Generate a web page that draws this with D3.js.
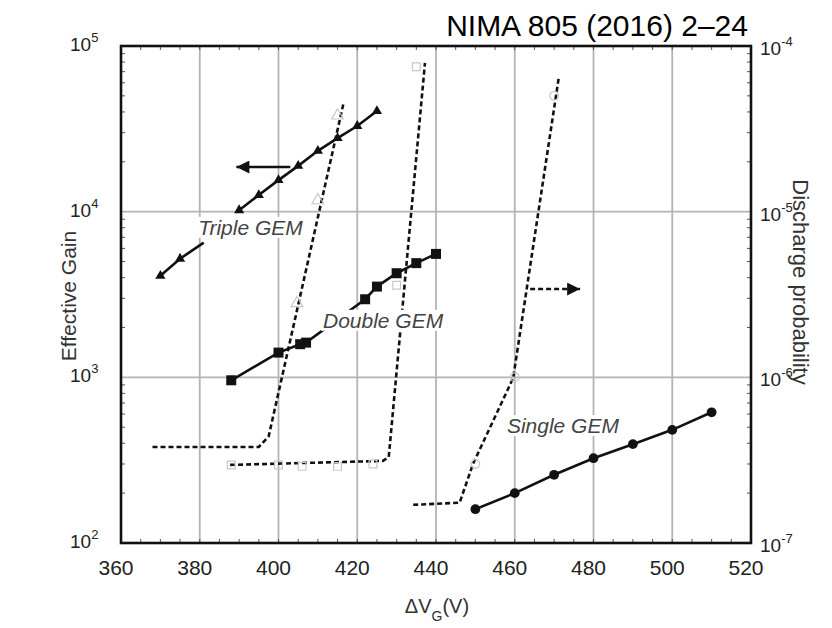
<!DOCTYPE html>
<html>
<head>
<meta charset="utf-8">
<script src="https://cdn.jsdelivr.net/npm/d3@7"></script>
<style>
  body { margin: 0; background: #fff; }
  svg { display: block; font-family: "Liberation Sans", Arial, sans-serif; }
</style>
</head>
<body>
<div id="chart"></div>
<script>
// gain curves (left axis)
var tripleLowV = [370, 375, 381];
var tripleLowGain = [4100, 5200, 6500];
var tripleV = [390, 395, 400, 405, 410, 415, 420, 425];
var tripleGain = [10200, 12600, 15500, 18900, 23300, 27800, 32900, 40500];
var doubleV = [388, 400, 405.5, 407, 422, 425, 430, 435, 440];
var doubleGain = [960, 1410, 1585, 1620, 2960, 3530, 4250, 4890, 5560];
var singleV = [450, 460, 470, 480, 490, 500, 510];
var singleGain = [160, 200, 258, 325, 395, 482, 615];

// discharge probability curves (right axis)
var tripleDischV = [368, 395, 397.5, 416.5];
var tripleDischP = [3.8e-7, 3.8e-7, 4.4e-7, 4.5e-5];
var doubleDischV = [387.7, 426.5, 428, 437.2];
var doubleDischP = [2.96e-7, 3.13e-7, 3.3e-7, 7.9e-5];
var singleDischV = [434.2, 446, 449.4, 459.6, 471.2];
var singleDischP = [1.7e-7, 1.75e-7, 3.0e-7, 9.9e-7, 6.5e-5];

// faint open markers on the discharge curves
var tripleOpenV = [404.7, 410, 415];
var tripleOpenP = [2.8e-6, 1.17e-5, 3.8e-5];
var doubleOpenV = [388, 400, 406, 415, 424, 430, 435];
var doubleOpenP = [2.96e-7, 2.96e-7, 2.9e-7, 2.9e-7, 3.0e-7, 3.6e-6, 7.5e-5];
var singleOpenV = [450, 460, 470];
var singleOpenP = [3.0e-7, 1.0e-6, 5.0e-5];

var xTicks = [360, 380, 400, 420, 440, 460, 480, 500, 520];
var gainTicks = [2, 3, 4, 5];
var probTicks = [-7, -6, -5, -4];

var W = 832, H = 628;
var plotL = 121, plotR = 751, plotT = 46, plotB = 543;

var svg = d3.select('#chart').append('svg')
    .attr('width', W)
    .attr('height', H);

var x = d3.scaleLinear().domain([360, 520]).range([plotL, plotR]);
var yG = d3.scaleLog().domain([1e2, 1e5]).range([plotB, plotT]);
var yP = d3.scaleLog().domain([1e-7, 1e-4]).range([plotB, plotT]);

function zip(a, b) {
    return a.map(function (d, i) { return [d, b[i]]; });
}

// grid
var grid = svg.append('g');
grid.selectAll('.vg').data(xTicks.slice(1, -1)).enter().append('line')
    .attr('x1', function (d) { return x(d); })
    .attr('x2', function (d) { return x(d); })
    .attr('y1', plotT).attr('y2', plotB)
    .attr('stroke', '#b4b4b4').attr('stroke-width', 1.8);
grid.selectAll('.hg').data([1e3, 1e4]).enter().append('line')
    .attr('x1', plotL).attr('x2', plotR)
    .attr('y1', function (d) { return yG(d); })
    .attr('y2', function (d) { return yG(d); })
    .attr('stroke', '#b4b4b4').attr('stroke-width', 1.8);

// minor ticks
var minorX = d3.range(365, 520, 5);
var minorY = [];
[100, 1000, 10000].forEach(function (dec) {
    for (var k = 2; k < 10; k++) { minorY.push(dec * k); }
});
var ticks = svg.append('g').attr('stroke', '#555').attr('stroke-width', 1);
ticks.selectAll('.mxb').data(minorX).enter().append('line')
    .attr('x1', function (d) { return x(d); }).attr('x2', function (d) { return x(d); })
    .attr('y1', plotB).attr('y2', plotB - 4);
ticks.selectAll('.mxt').data(minorX).enter().append('line')
    .attr('x1', function (d) { return x(d); }).attr('x2', function (d) { return x(d); })
    .attr('y1', plotT).attr('y2', plotT + 4);
ticks.selectAll('.myl').data(minorY).enter().append('line')
    .attr('x1', plotL).attr('x2', plotL + 4)
    .attr('y1', function (d) { return yG(d); }).attr('y2', function (d) { return yG(d); });
ticks.selectAll('.myr').data(minorY).enter().append('line')
    .attr('x1', plotR).attr('x2', plotR - 4)
    .attr('y1', function (d) { return yG(d); }).attr('y2', function (d) { return yG(d); });

// frame
svg.append('rect')
    .attr('x', plotL).attr('y', plotT)
    .attr('width', plotR - plotL).attr('height', plotB - plotT)
    .attr('fill', 'none').attr('stroke', '#111').attr('stroke-width', 2.6);

// tick labels
svg.selectAll('.xl').data(xTicks).enter().append('text')
    .attr('x', function (d) { return x(d) - 5; })
    .attr('y', plotB + 32)
    .attr('text-anchor', 'middle')
    .attr('font-size', 21)
    .attr('fill', '#222')
    .text(function (d) { return d; });

var gl = svg.selectAll('.gl').data(gainTicks).enter().append('text')
    .attr('x', 70)
    .attr('y', function (d) { return yG(Math.pow(10, d)) + 5; })
    .attr('font-size', 19)
    .attr('fill', '#222');
gl.append('tspan').text('10');
gl.append('tspan').attr('dy', -9).attr('font-size', 13).text(function (d) { return d; });

var pl = svg.selectAll('.pl').data(probTicks).enter().append('text')
    .attr('x', 760)
    .attr('y', function (d) { return yP(Math.pow(10, d)) + 9; })
    .attr('font-size', 19)
    .attr('fill', '#222');
pl.append('tspan').text('10');
pl.append('tspan').attr('dy', -9).attr('font-size', 13).text(function (d) { return d; });

// axis titles
svg.append('text')
    .attr('transform', 'translate(76,296) rotate(-90)')
    .attr('text-anchor', 'middle')
    .attr('font-size', 21)
    .attr('fill', '#333')
    .text('Effective Gain');
svg.append('text')
    .attr('transform', 'translate(793,282) rotate(90)')
    .attr('text-anchor', 'middle')
    .attr('font-size', 22)
    .attr('fill', '#333')
    .text('Discharge probability');
var xt = svg.append('text')
    .attr('x', 437).attr('y', 613)
    .attr('text-anchor', 'middle')
    .attr('font-size', 20)
    .attr('fill', '#333');
xt.append('tspan').text('\u0394V');
xt.append('tspan').attr('dy', 8).attr('font-size', 14).text('G');
xt.append('tspan').attr('dy', -8).text('(V)');

svg.append('text')
    .attr('x', 748).attr('y', 36)
    .attr('text-anchor', 'end')
    .attr('font-size', 30)
    .attr('fill', '#000')
    .text('NIMA 805 (2016) 2\u201324');

// discharge curves (dashed)
var lineP = d3.line()
    .x(function (d) { return x(d[0]); })
    .y(function (d) { return yP(d[1]); });
[zip(tripleDischV, tripleDischP), zip(doubleDischV, doubleDischP), zip(singleDischV, singleDischP)]
    .forEach(function (pts) {
        svg.append('path')
            .attr('d', lineP(pts))
            .attr('fill', 'none')
            .attr('stroke', '#111')
            .attr('stroke-width', 2.6)
            .attr('stroke-dasharray', '5,3');
    });

function openMarks(v, p, type) {
    svg.selectAll(null).data(zip(v, p)).enter().append('path')
        .attr('d', d3.symbol().type(type).size(60))
        .attr('transform', function (d) { return 'translate(' + x(d[0]) + ',' + yP(d[1]) + ')'; })
        .attr('fill', 'none')
        .attr('stroke', '#c8c8c8')
        .attr('stroke-width', 1.2);
}
openMarks(tripleOpenV, tripleOpenP, d3.symbolTriangle);
openMarks(doubleOpenV, doubleOpenP, d3.symbolSquare);
openMarks(singleOpenV, singleOpenP, d3.symbolCircle);

// gain curves (solid)
var lineG = d3.line()
    .x(function (d) { return x(d[0]); })
    .y(function (d) { return yG(d[1]); });

function gainCurve(v, g, type, size, marked) {
    var pts = zip(v, g);
    svg.append('path')
        .attr('d', lineG(pts))
        .attr('fill', 'none')
        .attr('stroke', '#111')
        .attr('stroke-width', 2.6);
    svg.selectAll(null).data(pts.filter(function (d, i) { return marked ? marked(i) : true; }))
        .enter().append('path')
        .attr('d', d3.symbol().type(type).size(size))
        .attr('transform', function (d) { return 'translate(' + x(d[0]) + ',' + yG(d[1]) + ')'; })
        .attr('fill', '#111');
}
gainCurve(tripleLowV, tripleLowGain, d3.symbolTriangle, 45, function (i) { return i < 2; });
gainCurve(tripleV, tripleGain, d3.symbolTriangle, 45);
gainCurve(doubleV, doubleGain, d3.symbolSquare, 100);
gainCurve(singleV, singleGain, d3.symbolCircle, 75);

// curve labels with white background
function label(txt, v, g) {
    var t = svg.append('text')
        .attr('x', x(v)).attr('y', yG(g))
        .attr('font-size', 21)
        .attr('font-style', 'italic')
        .attr('fill', '#444')
        .text(txt);
    var b = t.node().getBBox();
    svg.insert('rect', function () { return t.node(); })
        .attr('x', b.x - 2).attr('y', b.y + 1)
        .attr('width', b.width + 4).attr('height', b.height - 2)
        .attr('fill', '#fff');
}
label('Triple GEM', 379.6, 7250);
label('Double GEM', 411.3, 1990);
label('Single GEM', 458, 461);

// arrows
svg.append('defs').append('marker')
    .attr('id', 'head')
    .attr('viewBox', '0 0 10 10')
    .attr('refX', 10).attr('refY', 5)
    .attr('markerWidth', 6).attr('markerHeight', 5)
    .attr('orient', 'auto')
    .attr('markerUnits', 'strokeWidth')
    .append('path')
    .attr('d', 'M0,0 L10,5 L0,10 Z')
    .attr('fill', '#111');

svg.append('line')
    .attr('x1', x(403)).attr('x2', x(389.3))
    .attr('y1', yG(18600)).attr('y2', yG(18600))
    .attr('stroke', '#111').attr('stroke-width', 2.6)
    .attr('marker-end', 'url(#head)');
svg.append('line')
    .attr('x1', x(463.9)).attr('x2', x(476.6))
    .attr('y1', yP(3.41e-6)).attr('y2', yP(3.41e-6))
    .attr('stroke', '#111').attr('stroke-width', 2.6)
    .attr('stroke-dasharray', '5,3')
    .attr('marker-end', 'url(#head)');
</script>
</body>
</html>
